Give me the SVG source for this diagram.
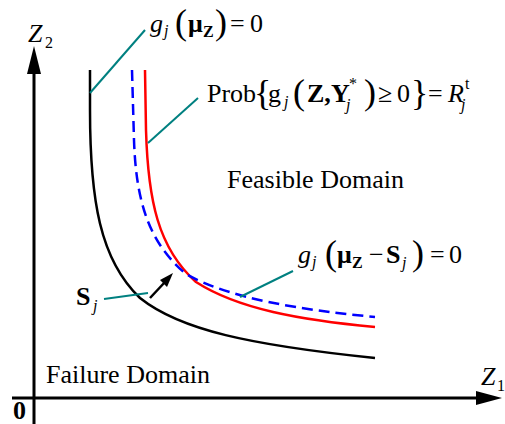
<svg xmlns="http://www.w3.org/2000/svg" width="505" height="424" viewBox="0 0 505 424" font-family="'Liberation Serif', 'DejaVu Serif', serif">
<style>
text{font-family:"Liberation Serif","DejaVu Serif","Times New Roman",serif;fill:#000;font-size:26px}
.i{font-style:italic}
.b{font-weight:bold}
.r{font-style:normal;font-weight:normal}
.sub{font-size:16px}
.par{font-size:36px;font-weight:normal;font-style:normal}
.lead{stroke:#008080;stroke-width:2;fill:none}
.ax{stroke:#000;stroke-width:3;fill:none}
</style>
<rect width="505" height="424" fill="#fff"/>
<g id="axes">
<line class="ax" x1="34" y1="424" x2="34" y2="72"/>
<polygon points="34,46 27,74 41,74" fill="#000"/>
<line class="ax" x1="12" y1="398" x2="478" y2="398"/>
<polygon points="502,398 476,391 476,405" fill="#000"/>
<text x="28" y="42"><tspan class="i">Z</tspan><tspan x="45" y="48" class="sub">2</tspan></text>
<text x="481" y="385"><tspan class="i">Z</tspan><tspan x="497" y="391" class="sub">1</tspan></text>
<text x="13" y="419" class="b">0</text>
</g>
<g id="curves">
<path id="black-curve" d="M90,70 L90,110 C90,200 100,260 140,298 C180,330 250,345 375,358" stroke="#000" stroke-width="2.5" fill="none"/>
<path id="red-curve" d="M145,70 L146,130 C148,200 158,248 196,282 C238,309 300,320 375,327" stroke="#ff0000" stroke-width="2.5" fill="none"/>
<path id="blue-curve" d="M132,70 L134,140 C136,200 148,242 186,274 C228,298 300,310 375,317" stroke="#0000ff" stroke-width="2.5" stroke-dasharray="11,6" fill="none"/>
</g>
<g id="connectors">
<line class="lead" x1="90" y1="93" x2="145" y2="30"/>
<line class="lead" x1="148" y1="143" x2="198" y2="98"/>
<line class="lead" x1="240" y1="297" x2="293" y2="271"/>
<line class="lead" x1="104" y1="299" x2="148" y2="293"/>
<line x1="150" y1="298" x2="165" y2="282" stroke="#000" stroke-width="2.5"/>
<polygon points="173,273 160,280 167,287" fill="#000"/>
</g>
<g id="label-g-mu">
<text x="150" y="32"><tspan class="i">g</tspan><tspan x="164" y="36" class="sub i">j</tspan><tspan x="175" y="34" class="par">(</tspan><tspan x="188" y="32" class="b">μ</tspan><tspan x="203" y="37" class="sub b">Z</tspan><tspan x="215" y="34" class="par">)</tspan><tspan x="230" y="32">=</tspan><tspan x="250" y="32">0</tspan></text>
</g>
<g id="label-prob">
<text x="207" y="102">Prob<tspan x="254" y="105" class="par">{</tspan><tspan x="268" y="102">g</tspan><tspan x="284" y="107" class="sub i">j</tspan><tspan x="293" y="104" class="par">(</tspan><tspan x="307" y="102" class="b">Z,</tspan><tspan x="331" y="102" class="b">Y</tspan><tspan x="349" y="89" class="sub">*</tspan><tspan x="346" y="110" class="sub i">j</tspan><tspan x="364" y="104" class="par">)</tspan><tspan x="378" y="102">≥</tspan><tspan x="397" y="102">0</tspan><tspan x="411" y="105" class="par">}</tspan><tspan x="428" y="102">=</tspan><tspan x="448" y="102" class="i">R</tspan><tspan x="465" y="89" class="sub">t</tspan><tspan x="461" y="110" class="sub i">j</tspan></text>
</g>
<g id="label-feasible">
<text x="227" y="188">Feasible Domain</text>
</g>
<g id="label-g-mu-s">
<text x="298" y="263"><tspan class="i">g</tspan><tspan x="312" y="267" class="sub i">j</tspan><tspan x="325" y="265" class="par">(</tspan><tspan x="337" y="263" class="b">μ</tspan><tspan x="352" y="268" class="sub b">Z</tspan><tspan x="369" y="263">−</tspan><tspan x="386" y="263" class="b">S</tspan><tspan x="402" y="268" class="sub i">j</tspan><tspan x="412" y="265" class="par">)</tspan><tspan x="430" y="263">=</tspan><tspan x="449" y="263">0</tspan></text>
</g>
<g id="label-sj">
<text x="76" y="305"><tspan class="b">S</tspan><tspan x="93" y="311" class="sub i">j</tspan></text>
</g>
<g id="label-failure">
<text x="46" y="383">Failure Domain</text>
</g>
</svg>
